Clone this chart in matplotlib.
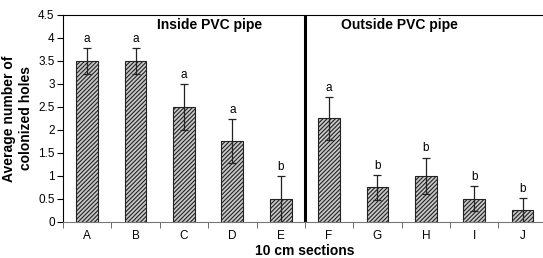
import matplotlib.pyplot as plt
import numpy as np

plt.rcParams['font.family'] = ['Liberation Sans', 'DejaVu Sans']
plt.rcParams['hatch.linewidth'] = 0.8

sections = ['A', 'B', 'C', 'D', 'E', 'F', 'G', 'H', 'I', 'J']
means = [3.5, 3.5, 2.5, 1.75, 0.5, 2.25, 0.75, 1.0, 0.5, 0.25]
errors = [0.28, 0.28, 0.5, 0.48, 0.5, 0.47, 0.27, 0.4, 0.27, 0.27]
letters = ['a', 'a', 'a', 'a', 'b', 'a', 'b', 'b', 'b', 'b']

fig = plt.figure(figsize=(5.43, 2.58), dpi=100)
ax = fig.add_axes([0.116, 0.14, 0.891, 0.802])

x = np.arange(len(sections))
ax.bar(x, means, width=0.45, color='#c8c8c8', edgecolor='#222222',
       hatch='////////', linewidth=0.8)
ax.errorbar(x, means, yerr=errors, fmt='none', ecolor='#222222',
            elinewidth=0.9, capsize=3, capthick=0.9)

for xi, m, e, l in zip(x, means, errors, letters):
    ax.text(xi, m + e + 0.07, l, ha='center', va='bottom', fontsize=8.5)

ax.axvline(4.5, color='black', linewidth=2.2)
ax.text(2.53, 4.28, 'Inside PVC pipe', ha='center', va='center',
        fontsize=10, fontweight='bold')
ax.text(6.46, 4.28, 'Outside PVC pipe', ha='center', va='center',
        fontsize=10, fontweight='bold')

ax.set_xlim(-0.5, 9.5)
ax.set_ylim(0, 4.5)
ax.set_yticks(np.arange(0, 4.51, 0.5))
ax.set_yticklabels(['0', '0.5', '1', '1.5', '2', '2.5', '3', '3.5', '4', '4.5'])
ax.set_xticks(x)
ax.set_xticklabels(sections)
ax.set_xticks(np.arange(-0.5, 9.6, 1), minor=True)
ax.tick_params(axis='x', which='major', length=0, pad=6)
ax.tick_params(axis='x', which='minor', length=4, color='#555555')
ax.tick_params(axis='y', length=4, pad=2)
ax.tick_params(labelsize=8.5)

ax.spines['right'].set_visible(False)
ax.spines['bottom'].set_color('#777777')

ax.set_xlabel('10 cm sections', fontsize=10, fontweight='bold', labelpad=1)
ax.set_ylabel('Average number of\ncolonized holes', fontsize=10,
              fontweight='bold', labelpad=4)

plt.savefig('out.png', dpi=100)
